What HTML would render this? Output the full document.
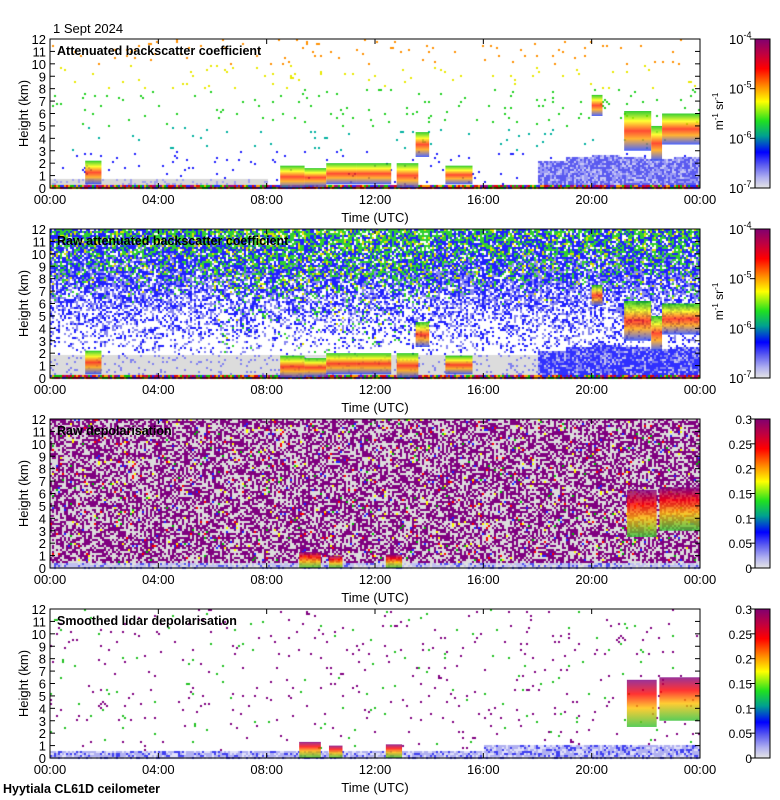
<!DOCTYPE html>
<html><head><meta charset="utf-8">
<style>
html,body{margin:0;padding:0;background:#fff;}
#wrap{position:relative;width:780px;height:800px;overflow:hidden;font-family:"Liberation Sans",sans-serif;}
canvas{position:absolute;left:0;top:0;}
svg{position:absolute;left:0;top:0;}
</style></head>
<body>
<div id="wrap">
<canvas id="tex" width="780" height="800"></canvas>
<svg id="chart" width="780" height="800" xmlns="http://www.w3.org/2000/svg"></svg>
</div>
<script>
// ---- data (hours UTC, heights km) ----
const panelTitles = ["Attenuated backscatter coefficient","Raw attenuated backscatter coefficient","Raw depolarisation","Smoothed lidar depolarisation"];
const xTickLabels = ["00:00","04:00","08:00","12:00","16:00","20:00","00:00"];
const xTickHours = [0,4,8,12,16,20,24];
const yTicks = [0,1,2,3,4,5,6,7,8,9,10,11,12];
const cbBackLabels = ["-7","-6","-5","-4"];
const cbDepolLabels = ["0","0.05","0.1","0.15","0.2","0.25","0.3"];
// boundary layer (aerosol) top per hour, km
const blTop = [0.8,0.8,0.8,0.8,0.6,0.7,0.7,0.6,0.8,1.0,1.2,1.4,1.5,1.4,1.2,1.0,1.0,1.2,2.2,2.6,2.8,2.6,2.4,2.5];
// backscatter clouds
const cloudStart = [1.3,8.5,9.4,10.2,11.3,12.8,13.5,14.6,20.0,21.2,22.2,22.6];
const cloudEnd   = [1.9,9.4,10.2,11.3,12.6,13.6,14.0,15.6,20.4,22.2,22.6,24.0];
const cloudBase  = [0.3,0.0,0.1,0.3,0.3,0.0,2.5,0.3,5.8,3.0,2.2,3.5];
const cloudTop   = [2.2,1.8,1.6,2.0,2.0,2.0,4.5,1.8,7.5,6.2,5.0,6.0];
// depolarisation strong regions (panel 3/4)
const depStart = [9.2,10.3,12.4,21.3,22.5];
const depEnd   = [10.0,10.8,13.0,22.4,24.0];
const depBase  = [0.0,0.0,0.0,2.5,3.0];
const depTop   = [1.3,1.0,1.1,6.3,6.5];

const X0=50,X1=700,PH=149,TOPS=[39,229,419,609];
function xs(h){return X0+h*(X1-X0)/24;}
function ys(km,p){return TOPS[p]+PH-km*PH/12;}
const NS="http://www.w3.org/2000/svg";
const svg=document.getElementById('chart');
function el(tag,attrs,parent){const e=document.createElementNS(NS,tag);for(const k in attrs)e.setAttribute(k,attrs[k]);(parent||svg).appendChild(e);return e;}

// ---- speckle texture (decorative) ----
const ctx=document.getElementById('tex').getContext('2d');
let seed=12345;function rnd(){seed=(seed*1103515245+12345)&0x7fffffff;return seed/0x7fffffff;}
function blAt(h){const i=Math.min(23,Math.max(0,Math.floor(h)));return blTop[i];}
const S=2;
for(let p=0;p<4;p++){
  for(let py=TOPS[p];py<TOPS[p]+PH;py+=S){
    const km=(TOPS[p]+PH-py)*12/PH;
    for(let px=X0;px<X1;px+=S){
      const h=(px-X0)*24/(X1-X0);const r=rnd();let c=null;const bl=blAt(h);
      if(p===0){
        if(km<0.3) c=['#e00000','#ffa000','#2020ff','#00c000','#a00080'][Math.floor(r*5)];
        else if(h>=18 && km<bl) c=r<0.5?'#5a5af0':(r<0.8?'#9a9af5':'#c8c8f5');
        else if(h<8 && km<0.8) c=r<0.85?'#d8d8d8':'#a0a0f0';
        else if(r<0.018){c=km<3?'#2020ff':km<5?'#00b0a0':km<8?'#20d020':km<10?'#e8e800':'#ff9000';}
      } else if(p===1){
        if(km<0.3) c=['#e00000','#ffa000','#2020ff','#00c000','#a00080'][Math.floor(r*5)];
        else if(h>=18 && km<bl) c=r<0.6?'#3030ff':(r<0.85?'#8080f0':'#c0c0f0');
        else if(km<2) c=r<0.9?'#dcdcdc':'#8080f0';
        else{const d=Math.min(0.85,0.1+(km-2)*0.12);
          if(r<d){const g=Math.max(0,(km-6)/10)+(h>6&&h<14?0.12:0);const r2=rnd();
            c=r2<g*0.8?'#30d030':(r2<g?'#e0e000':(r2<g+0.5?'#2020ff':'#8888f0'));}}
      } else if(p===2){
        if(km<0.5) c=r<0.5?'#c0c0f0':(r<0.8?'#e0e0e0':'#5050f0');
        else {c=r<0.5?'#800080':'#dcdcdc';if(rnd()<0.04)c=['#ff0000','#00c000','#2020ff','#ffff00'][Math.floor(rnd()*4)];}
      } else {
        if(km<0.7+ (h>16?0.4:0)) c=r<0.5?'#b0b0f0':(r<0.8?'#e0e0f8':'#4040f0');
        else if(r<0.02) c=r<0.015?'#800080':'#20c020';
      }
      if(c){ctx.fillStyle=c;ctx.fillRect(px,py,S,S);}
    }
  }
}

// ---- defs ----
const defs=el('defs',{});
function grad(id,stops){const g=el('linearGradient',{id:id,x1:0,y1:0,x2:0,y2:1},defs);stops.forEach(s=>el('stop',{offset:s[0],'stop-color':s[1]},g));}
grad('cb',[[0,'#800070'],[0.1,'#c00040'],[0.2,'#ff0000'],[0.32,'#ff9000'],[0.42,'#ffff00'],[0.55,'#20e020'],[0.65,'#00a090'],[0.76,'#0000ff'],[0.85,'#6060f0'],[0.93,'#b0b0f0'],[1,'#e4e4e4']]);
grad('cloud',[[0,'#00c000'],[0.25,'#ffff00'],[0.5,'#ff2000'],[0.7,'#ffa000'],[1,'#2040ff']]);
grad('dep',[[0,'#800080'],[0.3,'#ff0000'],[0.6,'#ffc000'],[1,'#30c030']]);

for(let p=0;p<4;p++){
  const g=el('g',{});
  
  
  if(p<2){
    for(let i=0;i<cloudStart.length;i++){
      const r=el('rect',{x:xs(cloudStart[i]),y:ys(cloudTop[i],p),width:xs(cloudEnd[i])-xs(cloudStart[i]),height:ys(cloudBase[i],p)-ys(cloudTop[i],p),fill:'url(#cloud)',opacity:0.8},g);
      
      
    }
  } else {
    for(let i=0;i<depStart.length;i++){
      const r=el('rect',{x:xs(depStart[i]),y:ys(depTop[i],p),width:xs(depEnd[i])-xs(depStart[i]),height:ys(depBase[i],p)-ys(depTop[i],p),fill:'url(#dep)',opacity:0.8},g);
      
      
    }
  }
  el('rect',{x:X0,y:TOPS[p],width:X1-X0,height:PH,fill:'none',stroke:'#000','stroke-width':1},g);
  yTicks.forEach(v=>{const y=ys(v,p);
    el('line',{x1:X0,x2:X0+5,y1:y,y2:y,stroke:'#000'},g);
    el('line',{x1:X1-5,x2:X1,y1:y,y2:y,stroke:'#000'},g);
    const t=el('text',{x:X0-4,y:y+5,'text-anchor':'end','font-size':13},g);t.textContent=v;
    });
  xTickHours.forEach((h,i)=>{const x=xs(h);
    el('line',{x1:x,x2:x,y1:TOPS[p]+PH,y2:TOPS[p]+PH-5,stroke:'#000'},g);
    el('line',{x1:x,x2:x,y1:TOPS[p],y2:TOPS[p]+5,stroke:'#000'},g);
    const t=el('text',{x:x,y:TOPS[p]+PH+16,'text-anchor':'middle','font-size':13},g);t.textContent=xTickLabels[i];
    });
  const xt=el('text',{x:375,y:TOPS[p]+PH+34,'text-anchor':'middle','font-size':13},g);xt.textContent='Time (UTC)';
  
  const yt=el('text',{x:0,y:0,'text-anchor':'middle','font-size':13,transform:'translate(28,'+(TOPS[p]+PH/2)+') rotate(-90)'},g);yt.textContent='Height (km)';
  
  const tt=el('text',{x:57,y:TOPS[p]+16,'font-size':12.5,'font-weight':'bold'},g);tt.textContent=panelTitles[p];
  
  const cb=el('rect',{x:755,y:TOPS[p],width:15,height:PH,fill:'url(#cb)',stroke:'#000'},g);
  
  if(p<2){
    cbBackLabels.forEach((l,i)=>{const y=TOPS[p]+PH-i*PH/3;
      el('line',{x1:750,x2:755,y1:y,y2:y,stroke:'#000'},g);
      const t=el('text',{x:729,y:y+5,'font-size':13},g);t.innerHTML='10<tspan dy="-6" font-size="9">'+l+'</tspan>';
      });
    const u=el('text',{x:0,y:0,'text-anchor':'middle','font-size':12,transform:'translate(723,'+(TOPS[p]+PH/2-2)+') rotate(-90)'},g);
    u.innerHTML='m<tspan dy="-5" font-size="8">-1</tspan><tspan dy="5"> sr</tspan><tspan dy="-5" font-size="8">-1</tspan>';
    
  } else {
    cbDepolLabels.forEach((l,i)=>{const y=TOPS[p]+PH-i*PH/6;
      el('line',{x1:750,x2:755,y1:y,y2:y,stroke:'#000'},g);
      const t=el('text',{x:752,y:y+5,'text-anchor':'end','font-size':12},g);t.textContent=l;
      });
  }
}
const d=el('text',{x:53,y:33,'font-size':13});d.textContent='1 Sept 2024';

const f=el('text',{x:3,y:793,'font-size':12.5,'font-weight':'bold'});f.textContent='Hyytiala CL61D ceilometer';

</script>
</body></html>
